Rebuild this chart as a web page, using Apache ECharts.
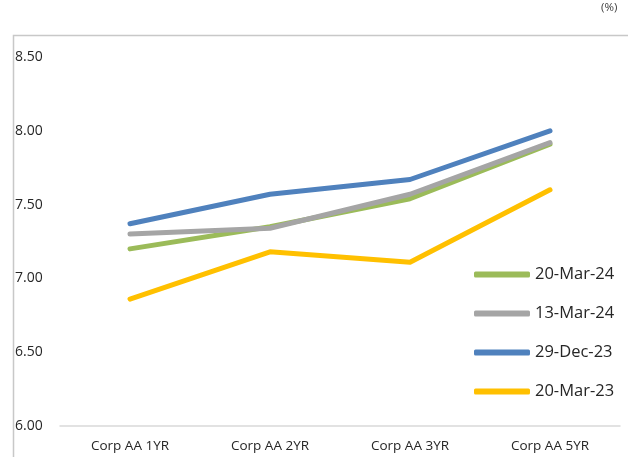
<!DOCTYPE html>
<html>
<head>
<meta charset="utf-8">
<script src="https://cdn.jsdelivr.net/npm/echarts@6/dist/echarts.min.js"></script>
<style>
  html, body { margin: 0; padding: 0; background: #fff; }
  #chart { width: 628px; height: 457px; }
</style>
</head>
<body>
<div id="chart"></div>
<script>
// Corporate AA yields by tenor (%)
const categories = ['Corp AA 1YR', 'Corp AA 2YR', 'Corp AA 3YR', 'Corp AA 5YR'];
const mar24_20 = [7.20, 7.35, 7.54, 7.91];
const mar24_13 = [7.30, 7.34, 7.57, 7.92];
const dec23_29 = [7.37, 7.57, 7.67, 8.00];
const mar23_20 = [6.86, 7.18, 7.11, 7.60];
const yTicks = { min: 6.0, max: 8.5, step: 0.5 };

const seriesDefs = [
  { name: '20-Mar-24', data: mar24_20, color: '#9BBB59' },
  { name: '13-Mar-24', data: mar24_13, color: '#A5A5A5' },
  { name: '29-Dec-23', data: dec23_29, color: '#4F81BD' },
  { name: '20-Mar-23', data: mar23_20, color: '#FFC000' }
];

const font = '"Open Sans", "Liberation Sans", sans-serif';
const chart = echarts.init(document.getElementById('chart'));
chart.setOption({
  animation: false,
  textStyle: { fontFamily: font },
  graphic: [
    { type: 'rect', left: 11, top: 33, shape: { width: 640, height: 440 },
      style: { fill: 'none', stroke: '#c8c8c8', lineWidth: 1.5 }, silent: true },
    { type: 'text', left: 601, top: 2,
      style: { text: '(%)', fill: '#404040', font: '11.5px ' + font } }
  ],
  grid: { left: 60, right: 8, top: 57, bottom: 31 },
  legend: {
    orient: 'vertical', left: 469, top: 261,
    itemWidth: 56, itemHeight: 6, itemGap: 22,
    icon: 'roundRect',
    textStyle: { fontSize: 16.5, color: '#262626', fontFamily: font },
    data: seriesDefs.map(s => s.name)
  },
  xAxis: {
    type: 'category', data: categories, boundaryGap: true,
    axisLine: { lineStyle: { color: '#d9d9d9', width: 1.5 } },
    axisTick: { show: false },
    axisLabel: { color: '#262626', fontSize: 13.5, margin: 13, fontFamily: font }
  },
  yAxis: {
    type: 'value', min: yTicks.min, max: yTicks.max, interval: yTicks.step,
    axisLine: { show: false }, axisTick: { show: false },
    splitLine: { show: false },
    axisLabel: {
      color: '#262626', fontSize: 14, align: 'left', margin: 45, fontFamily: font,
      formatter: v => v.toFixed(2)
    }
  },
  series: seriesDefs.map(s => ({
    name: s.name, type: 'line', data: s.data, symbol: 'none',
    lineStyle: { color: s.color, width: 5, cap: 'round', join: 'round' },
    itemStyle: { color: s.color }
  }))
});
</script>
</body>
</html>
